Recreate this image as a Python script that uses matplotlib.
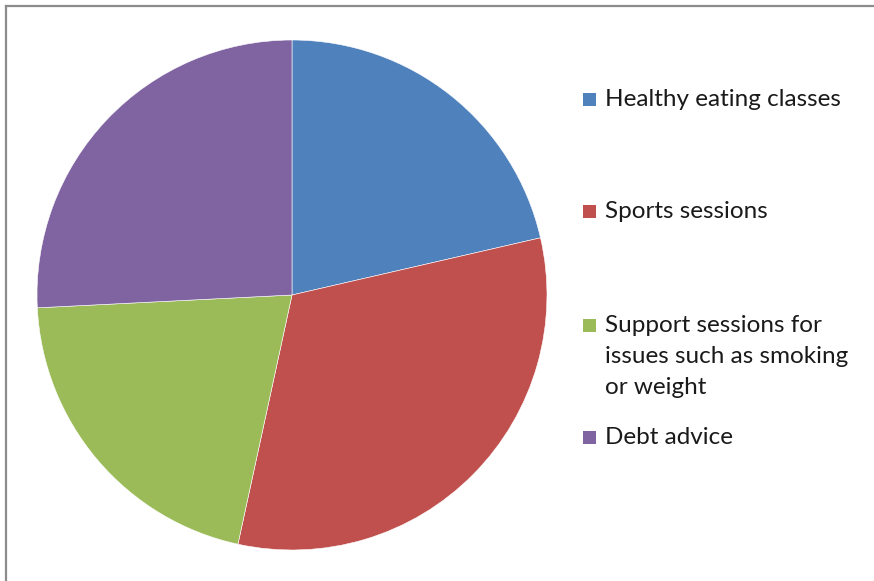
import matplotlib
matplotlib.use("Agg")
import matplotlib.pyplot as plt
from matplotlib.patches import Rectangle
from matplotlib.lines import Line2D

categories = ["Healthy eating classes", "Sports sessions",
              "Support sessions for\nissues such as smoking\nor weight", "Debt advice"]
values = [21.4, 32.0, 20.8, 25.8]
colors = ["#4F81BD", "#C0504D", "#9BBB59", "#8064A2"]

plt.rcParams['font.family'] = ['Lato', 'DejaVu Sans']

W, H = 874, 581
fig = plt.figure(figsize=(W / 100, H / 100), dpi=100)
fig.patch.set_facecolor("white")

cx, cy, r = 292, 295, 255
ax = fig.add_axes([(cx - r) / W, (H - cy - r) / H, 2 * r / W, 2 * r / H])
ax.pie(values, colors=colors, startangle=90, counterclock=False, radius=1,
       wedgeprops=dict(edgecolor="white", linewidth=0.4))
ax.set_xlim(-1, 1)
ax.set_ylim(-1, 1)
ax.set_aspect("auto")
ax.axis("off")

# frame
fig.add_artist(Line2D([6 / W, 1.0], [1 - 6 / H, 1 - 6 / H], transform=fig.transFigure,
                      color="#8c8c8c", linewidth=1.6))
fig.add_artist(Line2D([6 / W, 6 / W], [0.0, 1 - 6 / H], transform=fig.transFigure,
                      color="#8c8c8c", linewidth=1.6))

# legend
marker_y = [99, 211, 325, 437]
for lab, col, my in zip(categories, colors, marker_y):
    fig.add_artist(Rectangle((583 / W, 1 - (my + 6.5) / H), 13 / W, 13 / H,
                             transform=fig.transFigure, facecolor=col, edgecolor="none"))
    fig.text(605 / W, 1 - (my - 10) / H, lab, ha="left", va="top", fontsize=17.5,
             color="#1a1a1a", linespacing=1.6)

fig.savefig("out.png", dpi=100, facecolor="white")
